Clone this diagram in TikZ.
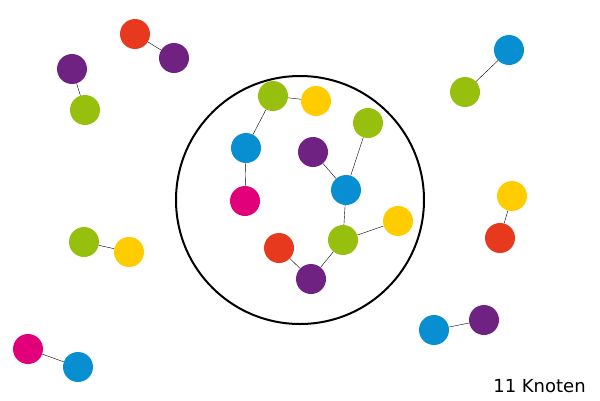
\documentclass[tikz,border=0pt]{standalone}
\usepackage{fontspec}
\setmainfont{DejaVu Sans}
\definecolor{kred}{RGB}{230, 57, 30}
\definecolor{kgreen}{RGB}{151, 191, 13}
\definecolor{kyellow}{RGB}{255, 204, 0}
\definecolor{kblue}{RGB}{8, 143, 210}
\definecolor{kpurple}{RGB}{111, 34, 130}
\definecolor{kmagenta}{RGB}{226, 0, 122}
\begin{document}
\begin{tikzpicture}[x=1pt, y=-1pt, knoten/.style={circle, minimum size=30pt, inner sep=0pt}]
                    \useasboundingbox (0,0) rectangle (600,400);
                    \draw[line width=2pt] (300,200) circle (124);

                    % outside pairs
                    \node[knoten, fill=kred] (R1) at (135,34) {};
                    \node[knoten, fill=kpurple] (P1) at (174,58) {};
                    \node[knoten, fill=kpurple] (P2) at (72,69) {};
                    \node[knoten, fill=kgreen] (G1) at (85,110) {};
                    \node[knoten, fill=kblue] (B1) at (509,50) {};
                    \node[knoten, fill=kgreen] (G2) at (465,92) {};
                    \node[knoten, fill=kyellow] (Y1) at (512,196) {};
                    \node[knoten, fill=kred] (R2) at (500,238) {};
                    \node[knoten, fill=kgreen] (G3) at (84,242) {};
                    \node[knoten, fill=kyellow] (Y2) at (129,252) {};
                    \node[knoten, fill=kmagenta] (M1) at (28,349) {};
                    \node[knoten, fill=kblue] (B2) at (78,367) {};
                    \node[knoten, fill=kblue] (B3) at (434,330) {};
                    \node[knoten, fill=kpurple] (P3) at (484,320) {};

                    % inside the circle
                    \node[knoten, fill=kgreen] (G4) at (273,96) {};
                    \node[knoten, fill=kyellow] (Y3) at (316,101) {};
                    \node[knoten, fill=kblue] (B4) at (246,148) {};
                    \node[knoten, fill=kmagenta] (M2) at (245,201) {};
                    \node[knoten, fill=kpurple] (P4) at (313,152) {};
                    \node[knoten, fill=kgreen] (G5) at (368,123) {};
                    \node[knoten, fill=kblue] (B5) at (346,190) {};
                    \node[knoten, fill=kgreen] (G6) at (343,240) {};
                    \node[knoten, fill=kyellow] (Y4) at (398,221) {};
                    \node[knoten, fill=kred] (R3) at (279,248) {};
                    \node[knoten, fill=kpurple] (P5) at (311,279) {};

                    \draw (R1) -- (P1);
                    \draw (P2) -- (G1);
                    \draw (B1) -- (G2);
                    \draw (Y1) -- (R2);
                    \draw (G3) -- (Y2);
                    \draw (M1) -- (B2);
                    \draw (B3) -- (P3);
                    \draw (G4) -- (Y3);
                    \draw (G4) -- (B4);
                    \draw (B4) -- (M2);
                    \draw (P4) -- (B5);
                    \draw (G5) -- (B5);
                    \draw (B5) -- (G6);
                    \draw (G6) -- (Y4);
                    \draw (G6) -- (P5);
                    \draw (R3) -- (P5);

                    \node[font=\fontsize{18}{21}\selectfont] (label) at (539.5,386) {11 Knoten};
                \end{tikzpicture}
\end{document}
